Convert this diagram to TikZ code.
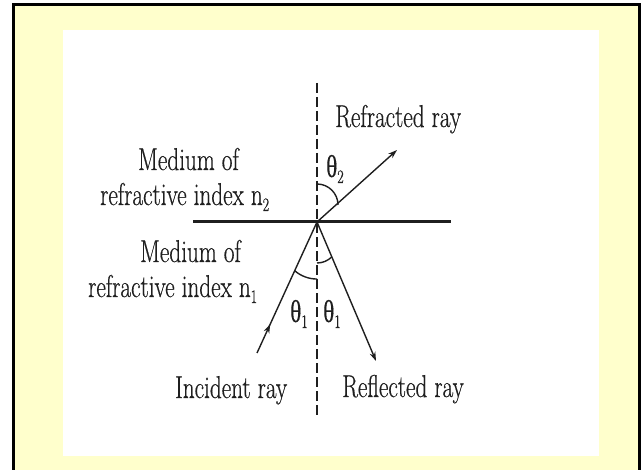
\documentclass[tikz,border=0pt]{standalone}
\usepackage{fontspec}
\usepackage{graphicx}
\newfontfamily\lblfont{Latin Modern Roman}[FakeBold=0.6]
\newfontfamily\grk{Liberation Serif}[FakeBold=0.3]
\usetikzlibrary{arrows.meta,decorations.markings}
\definecolor{paleyellow}{HTML}{FFFFCC}
\newcommand\cond[1]{\scalebox{0.735}[1]{#1}}
\newcommand\subx[1]{\raisebox{-6bp}{\fontsize{19}{20}\selectfont #1}}
\newcommand\thet{{\grk θ}}
\begin{document}
\begin{tikzpicture}[x=1bp,y=-1bp,
  lbl/.style={anchor=base west, inner sep=0pt, font=\lblfont\fontsize{31.7}{34}\selectfont, text=black!88},
  ray/.style={line width=1.4bp, draw=black!88},
  tipstyle/.style={-{Stealth[length=9bp,width=6bp,inset=3bp]}},
  normal/.style={line width=1.2bp, draw=black!88, dash pattern=on 10bp off 4bp},
  surface/.style={line width=3bp, draw=black!88}
]
\useasboundingbox (0,0) rectangle (641,470);
\clip (0,0) rectangle (641,470);
\fill[white] (0,0) rectangle (641,470);
\draw[line width=3bp, fill=paleyellow] (13.5,5) rectangle (639.5,480);
\fill[white] (63,30) rectangle (599,456);

\coordinate (O) at (317,222);
\coordinate (L) at (193,222);
\coordinate (R) at (451,222);
\coordinate (Ntop) at (317,83);
\coordinate (Nbot) at (317,418);
\coordinate (inc) at (257,353);
\coordinate (refl) at (376,361);
\coordinate (refr) at (397,150);

\draw[surface] (L) -- (R);
\draw[normal] (Ntop) -- (Nbot);
\draw[ray, tipstyle] (O) -- (refr);
\draw[ray, tipstyle] (O) -- (refl);
\draw[ray, postaction={decorate}, decoration={markings, mark=at position 0.22 with {\arrow{Stealth[length=9bp,width=6bp,inset=3bp]}}}] (inc) -- (O);

% angle arcs
\draw[ray] (317,184) arc[start angle=-90, end angle=0, radius=21];
\draw[ray] (294.7,270.7) arc[start angle=131, end angle=90, radius=34];
\draw[ray] (317,263) arc[start angle=90, end angle=45, radius=21];

% labels
\node[lbl] (refrtxt) at (335,127) {\cond{Refracted ray}};
\node[lbl] (med2a) at (138,170) {\cond{Medium of}};
\node[lbl] (med2b) at (100,205) {\cond{refractive index n\subx{2}}};
\node[lbl] (med1a) at (140,262) {\cond{Medium of}};
\node[lbl] (med1b) at (88,297) {\cond{refractive index n\subx{1}}};
\node[lbl] (inctxt) at (175,398) {\cond{Incident ray}};
\node[lbl] (refltxt) at (342,397) {\cond{Reflected ray}};
\node[lbl] (th2) at (326,177) {\cond{\thet\subx{2}}};
\node[lbl] (th1a) at (290,322) {\cond{\thet\subx{1}}};
\node[lbl] (th1b) at (323,322) {\cond{\thet\subx{1}}};
\end{tikzpicture}
\end{document}
